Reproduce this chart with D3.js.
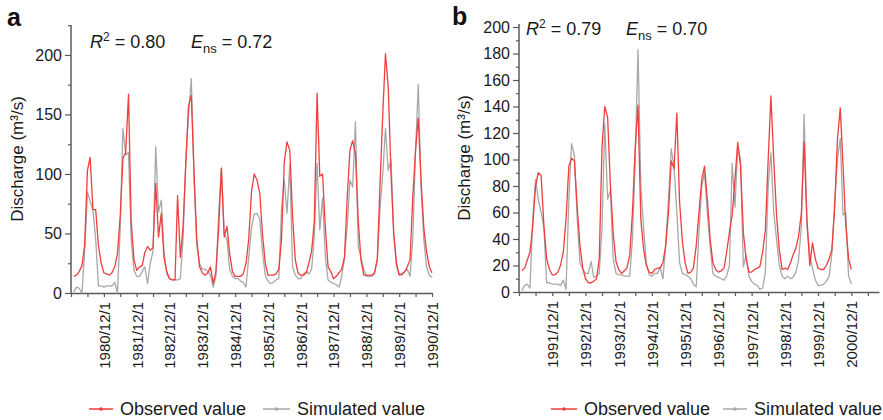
<!DOCTYPE html>
<html>
<head>
<meta charset="utf-8">
<script src="https://cdn.jsdelivr.net/npm/d3@7"></script>
<style>
  body { margin: 0; background: #fff; }
  svg { display: block; font-family: "Liberation Sans", Arial, sans-serif; }
</style>
</head>
<body>
<div id="chart"></div>
<script>
// Caudal mensual (m3/s), panel a: 1980/1 - 1990/12
const startA = [1980, 0];
const observedA = [
  14, 15, 18, 23, 40, 103, 114, 70, 70, 40, 25, 17,
  16, 15, 17, 22, 33, 65, 113, 118, 167, 60, 28, 19,
  22, 23, 34, 39, 36, 38, 92, 47, 67, 30, 18, 12,
  11, 11, 82, 30, 55, 110, 157, 166, 100, 45, 22, 17,
  15, 17, 22, 8, 18, 55, 105, 47, 56, 33, 18, 14,
  14, 14, 16, 25, 45, 85, 100, 95, 84, 50, 25, 15,
  15, 15, 16, 20, 45, 110, 127, 120, 65, 28, 17, 15,
  15, 17, 25, 35, 60, 168, 98, 100, 55, 22, 18, 12,
  14, 17, 20, 30, 80, 120, 128, 117, 61, 28, 15, 15,
  15, 15, 17, 28, 90, 150, 201, 173, 100, 50, 25, 15,
  16, 18, 22, 28, 80, 120, 147, 95, 55, 35, 22, 17
];
const simulatedA = [
  1, 5, 4, 0, 35, 85, 77, 70, 45, 6, 6, 5,
  6, 6, 6, 9, 0, 55, 138, 116, 118, 45, 19, 14,
  14, 18, 22, 8, 25, 35, 123, 68, 78, 35, 16, 12,
  11, 11, 11, 12, 45, 110, 150, 180, 95, 40, 25, 20,
  20, 18, 15, 5, 14, 67, 105, 50, 45, 20, 14, 12,
  12, 10, 9, 5, 30, 55, 66, 67, 62, 35, 15, 10,
  8, 9, 11, 12, 70, 95, 67, 108, 22, 15, 12, 12,
  16, 18, 16, 20, 47, 109, 53, 80, 30, 11, 9, 8,
  7, 5, 14, 30, 55, 95, 89, 144, 39, 30, 20, 14,
  14, 14, 16, 28, 70, 100, 138, 103, 112, 50, 22, 16,
  15, 18, 20, 14, 45, 120, 175, 89, 45, 22, 15, 13
];
const labelsA = ["1980/12/1", "1981/12/1", "1982/12/1", "1983/12/1", "1984/12/1", "1985/12/1",
  "1986/12/1", "1987/12/1", "1988/12/1", "1989/12/1", "1990/12/1"];
const yTicksA = [0, 50, 100, 150, 200];
const yMinorA = [25, 75, 125, 175, 225];

// panel b: 1991/1 - 2000/12
const startB = [1991, 0];
const observedB = [
  16, 18, 24, 30, 50, 80, 90, 88, 50, 25, 17, 13,
  13, 15, 20, 30, 55, 95, 101, 99, 64, 35, 18, 10,
  7, 7, 8, 10, 25, 110, 140, 132, 80, 45, 23, 17,
  14, 16, 18, 28, 60, 110, 141, 55, 32, 20, 15, 14,
  17, 18, 18, 22, 35, 60, 99, 93, 135, 68, 38, 22,
  14, 15, 18, 35, 60, 85, 95, 70, 40, 22, 17, 15,
  16, 18, 30, 45, 58, 85, 113, 95, 45, 25, 15, 15,
  17, 18, 19, 30, 47, 100, 148, 100, 58, 32, 17, 18,
  17, 22, 28, 33, 42, 60, 113, 55, 20, 37, 25, 18,
  17, 17, 20, 25, 32, 64, 115, 139, 95, 50, 25, 17
];
const simulatedB = [
  1, 5, 6, 3, 55, 85, 70, 60, 48, 7, 7, 6,
  6, 6, 5, 9, 2, 70, 112, 103, 55, 22, 17, 14,
  14, 23, 11, 12, 14, 50, 127, 70, 77, 25, 14, 13,
  13, 12, 12, 12, 40, 100, 183, 80, 48, 22, 13, 12,
  14, 14, 19, 10, 35, 70, 108, 95, 60, 22, 14, 13,
  12, 10, 6, 4, 45, 80, 90, 60, 35, 14, 12, 11,
  10, 9, 12, 20, 97, 64, 110, 100, 19, 28, 12, 8,
  6, 5, 2, 3, 15, 80, 105, 60, 40, 20, 12, 10,
  12, 10, 11, 15, 24, 50, 134, 50, 28, 18, 9, 5,
  5, 6, 8, 12, 29, 67, 100, 116, 58, 60, 12, 6
];
const labelsB = ["1991/12/1", "1992/12/1", "1993/12/1", "1994/12/1", "1995/12/1",
  "1996/12/1", "1997/12/1", "1998/12/1", "1999/12/1", "2000/12/1"];
const yTicksB = [0, 20, 40, 60, 80, 100, 120, 140, 160, 180, 200];
const yMinorB = [10, 30, 50, 70, 90, 110, 130, 150, 170, 190];

const seriesNames = ["Observed value", "Simulated value"];

// Tamaño del lienzo
const width = 883;
const height = 420;
const red = "#f03e3e";
const gray = "#a8a8a8";
const axisColor = "#5a5a5a";

const svg = d3.select("#chart").append("svg")
    .attr("width", width)
    .attr("height", height)
    .attr("viewBox", [0, 0, width, height]);

const parse = d3.timeParse("%Y/%m/%d");

function drawPanel(p) {
    const g = svg.append("g");

    const x = d3.scaleTime(p.xDomain, p.xRange);
    const y = d3.scaleLinear(p.yDomain, p.yRange);

    const toData = (vals, start) => vals.map((v, i) => ({ date: new Date(start[0], start[1] + i, 1), value: v }));
    const obs = toData(p.observed, p.start);
    const sim = toData(p.simulated, p.start);

    // ticks del eje x cada 6 meses (junio y diciembre)
    const halfYears = d3.timeMonth.range(p.xDomain[0], d3.timeDay.offset(p.xDomain[1], 1))
        .filter(d => d.getMonth() === 5 || d.getMonth() === 11);

    g.append("g")
        .attr("transform", `translate(0,${p.yRange[0]})`)
        .call(d3.axisBottom(x).tickValues(halfYears).tickSize(4).tickSizeOuter(0).tickFormat(""))
        .call(a => a.select(".domain").attr("stroke", axisColor).attr("stroke-width", 1.5))
        .call(a => a.selectAll(".tick line").attr("stroke", axisColor).attr("stroke-width", 1.2));

    const labelDates = p.labels.map(parse);
    g.append("g")
        .attr("transform", `translate(0,${p.yRange[0]})`)
        .call(d3.axisBottom(x).tickValues(labelDates).tickSize(0).tickFormat((d, i) => p.labels[i]))
        .call(a => a.select(".domain").remove())
        .call(a => a.selectAll("text")
            .attr("transform", "rotate(-90)")
            .attr("text-anchor", "end")
            .attr("x", -9)
            .attr("y", 0)
            .attr("dy", "0.36em")
            .attr("fill", "#1a1a1a")
            .style("font-size", "15px")
            .style("font-family", "'Liberation Sans', Arial, sans-serif"));

    // eje y
    g.append("g")
        .attr("transform", `translate(${p.xRange[0]},0)`)
        .call(d3.axisLeft(y).tickValues(p.yMinor).tickSize(3).tickFormat(""))
        .call(a => a.select(".domain").remove())
        .call(a => a.selectAll(".tick line").attr("stroke", axisColor).attr("stroke-width", 1.2));

    g.append("g")
        .attr("transform", `translate(${p.xRange[0]},0)`)
        .call(d3.axisLeft(y).tickValues(p.yTicks).tickSize(6).tickSizeOuter(0).tickPadding(3))
        .call(a => a.select(".domain").attr("stroke", axisColor).attr("stroke-width", 1.5)
            .attr("d", `M0,${p.yRange[0]}V${p.yTop}`))
        .call(a => a.selectAll(".tick line").attr("stroke", axisColor).attr("stroke-width", 1.2))
        .call(a => a.selectAll("text")
            .attr("fill", "#1a1a1a")
            .style("font-size", "16px")
            .style("font-family", "'Liberation Sans', Arial, sans-serif"));

    g.append("text")
        .attr("transform", `translate(${p.yLabelX},${(p.yRange[0] + p.yTop) / 2}) rotate(-90)`)
        .attr("text-anchor", "middle")
        .attr("fill", "#1a1a1a")
        .style("font-size", "17px")
        .text("Discharge (m³/s)");

    const line = d3.line()
        .x(d => x(d.date))
        .y(d => y(d.value));

    g.append("path")
        .attr("fill", "none")
        .attr("stroke", gray)
        .attr("stroke-width", 1.3)
        .attr("stroke-linejoin", "round")
        .attr("d", line(sim));

    g.append("path")
        .attr("fill", "none")
        .attr("stroke", red)
        .attr("stroke-width", 1.3)
        .attr("stroke-linejoin", "round")
        .attr("d", line(obs));

    // letra del panel
    g.append("text")
        .attr("x", p.letterX)
        .attr("y", p.letterY)
        .attr("fill", "#111")
        .style("font-size", "25px")
        .style("font-weight", "bold")
        .text(p.letter);

    // R2 y Ens
    const stats = g.append("text")
        .attr("y", p.statY)
        .attr("fill", "#1a1a1a")
        .style("font-size", "18px");
    stats.append("tspan").attr("x", p.statX[0]).style("font-style", "italic").text("R");
    stats.append("tspan").attr("dy", -7).style("font-size", "12px").text("2");
    stats.append("tspan").attr("dy", 7).text(" = " + p.r2);
    stats.append("tspan").attr("x", p.statX[1]).style("font-style", "italic").text("E");
    stats.append("tspan").attr("dy", 5).style("font-size", "13px").text("ns");
    stats.append("tspan").attr("dy", -5).text(" = " + p.ens);

    // leyenda
    const legend = g.append("g").attr("transform", `translate(0,${p.legendY})`);
    [red, gray].forEach((c, i) => {
        const lx = p.legendX[i];
        legend.append("line")
            .attr("x1", lx).attr("x2", lx + p.legendLen[i])
            .attr("stroke", c).attr("stroke-width", 1.5);
        legend.append("circle")
            .attr("cx", lx + p.legendLen[i] / 2).attr("r", 1.8)
            .attr("fill", c);
        legend.append("text")
            .attr("x", lx + p.legendLen[i] + 7)
            .attr("dy", "0.35em")
            .attr("fill", "#1a1a1a")
            .style("font-size", "18px")
            .text(seriesNames[i]);
    });
}

drawPanel({
    letter: "a", letterX: 7, letterY: 26,
    start: startA, observed: observedA, simulated: simulatedA,
    labels: labelsA,
    xDomain: [new Date(1979, 11, 1), new Date(1990, 11, 1)], xRange: [71, 432],
    yDomain: [0, 225], yRange: [293, 25.2], yTop: 25,
    yTicks: yTicksA, yMinor: yMinorA, yLabelX: 23,
    statX: [90, 191], statY: 48, r2: "0.80", ens: "0.72",
    legendX: [89, 263], legendLen: [24, 27], legendY: 409
});

drawPanel({
    letter: "b", letterX: 452, letterY: 25,
    start: startB, observed: observedB, simulated: simulatedB,
    labels: labelsB,
    xDomain: [new Date(1990, 11, 1), new Date(2001, 9, 1)], xRange: [519, 879],
    yDomain: [0, 200], yRange: [292, 27], yTop: 24,
    yTicks: yTicksB, yMinor: yMinorB, yLabelX: 470,
    statX: [526, 626], statY: 35, r2: "0.79", ens: "0.70",
    legendX: [551, 723], legendLen: [26, 24], legendY: 409
});
</script>
</body>
</html>
